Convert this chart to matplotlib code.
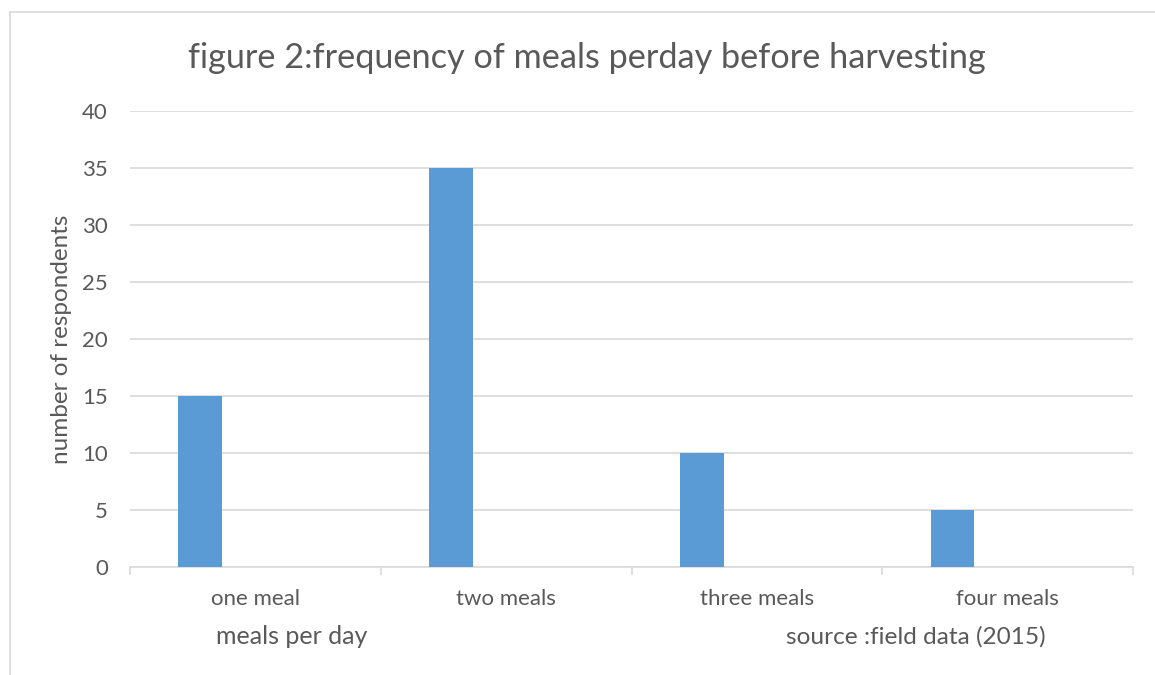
import matplotlib
matplotlib.use("Agg")
import matplotlib.pyplot as plt
import numpy as np

categories = ["one meal", "two meals", "three meals", "four meals"]
respondents = [15, 35, 10, 5]
y_ticks = [0, 5, 10, 15, 20, 25, 30, 35, 40]

plt.rcParams['font.family'] = ['Lato', 'DejaVu Sans']
txt = '#595959'
grid = '#d9d9d9'

fig = plt.figure(figsize=(11.55, 6.75), dpi=100)
ax = fig.add_axes([130/1155, 1-567/675, 1003/1155, 456/675])

x = np.arange(len(categories))
ax.bar(x - 0.22, respondents, width=0.175, color='#5b9bd5', zorder=3)

ax.set_xlim(-0.5, 3.5)
ax.set_ylim(0, 40)
ax.set_yticks(y_ticks)
ax.yaxis.grid(True, color=grid, linewidth=1.2, zorder=0)
for s in ['top', 'right', 'left']:
    ax.spines[s].set_visible(False)
ax.spines['bottom'].set_color(grid)
ax.spines['bottom'].set_linewidth(1.2)

ax.set_xticks(np.arange(-0.5, 4, 1), minor=False)
ax.set_xticklabels([])
ax.tick_params(axis='x', which='major', length=6, color=grid, width=1.2)
ax.set_xticks(x, minor=True)
ax.set_xticklabels(categories, minor=True)
ax.tick_params(axis='x', which='minor', length=0, pad=16, labelsize=16, labelcolor=txt)
ax.tick_params(axis='y', length=0, pad=16, labelsize=16, labelcolor=txt)

ax.set_ylabel("number of respondents", fontsize=17.5, color=txt)
ax.yaxis.set_label_coords((72-130)/1003, 0.5)

fig.text(587/1155, 1-58/675, "figure 2:frequency of meals perday before harvesting",
         ha='center', va='center', fontsize=24.7, color=txt)
fig.text(292/1155, 1-637/675, "meals per day", ha='center', va='center',
         fontsize=18, color=txt)
fig.text(916/1155, 1-637/675, "source :field data (2015)", ha='center', va='center',
         fontsize=17.6, color=txt)

# chart border (top and left visible)
fig.add_artist(plt.Line2D([10/1155, 1], [1-12/675, 1-12/675], color=grid, lw=1.2))
fig.add_artist(plt.Line2D([10/1155, 10/1155], [0, 1-12/675], color=grid, lw=1.2))

fig.savefig("out.png", dpi=100)
